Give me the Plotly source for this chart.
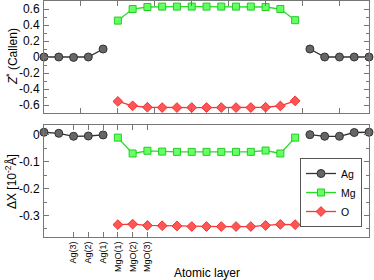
import plotly.graph_objects as go

layers = list(range(23))
N = None
ag_z = [0.0, 0.0, -0.005, 0.0, 0.10] + [N] * 13 + [0.10, 0.0, 0.0, 0.0, 0.0]
mg_z = [N] * 5 + [0.455, 0.60, 0.625, 0.63, 0.63, 0.63, 0.63, 0.63, 0.63, 0.63, 0.625, 0.60, 0.46] + [N] * 5
o_z = [N] * 5 + [-0.555, -0.61, -0.628, -0.632, -0.632, -0.632, -0.632, -0.632, -0.632, -0.632, -0.628, -0.612, -0.548] + [N] * 5

ag_dx = [0.010, 0.006, -0.005, -0.004, 0.0] + [N] * 13 + [0.001, -0.005, -0.005, 0.009, 0.010]
mg_dx = [N] * 5 + [-0.010, -0.069, -0.059, -0.062, -0.063, -0.063, -0.063, -0.063, -0.063, -0.063, -0.058, -0.069, -0.010] + [N] * 5
o_dx = [N] * 5 + [-0.334, -0.332, -0.337, -0.338, -0.339, -0.341, -0.341, -0.341, -0.341, -0.341, -0.337, -0.333, -0.334] + [N] * 5

tick_pos = [2, 3, 4, 5, 6, 7]
tick_labels = ["Ag(3)", "Ag(2)", "Ag(1)", "MgO(1)", "MgO(2)", "MgO(3)"]

z_ticks = [0.6, 0.4, 0.2, 0, -0.2, -0.4, -0.6]
z_ticktext = ["0.6", "0.4", "0.2", "0", "-0.2", "-0.4", "-0.6"]
dx_ticks = [0, -0.1, -0.2, -0.3]
dx_ticktext = ["0", "-0.1", "-0.2", "-0.3"]

styles = {
    "Ag": dict(symbol="circle", size=8, color="#666666", line=dict(color="#333333", width=1), lc="#333333"),
    "Mg": dict(symbol="square", size=7, color="#66ff66", line=dict(color="#22cc22", width=1), lc="#22dd22"),
    "O": dict(symbol="diamond", size=7.5, color="#ff5555", line=dict(color="#ee3333", width=1), lc="#ff3333"),
}

fig = go.Figure()

def add(name, y, xa, ya, show):
    s = styles[name]
    fig.add_trace(go.Scatter(
        x=layers, y=y, name=name, mode="lines+markers", connectgaps=False,
        line=dict(color=s["lc"], width=1.3),
        marker=dict(symbol=s["symbol"], size=s["size"], color=s["color"], line=s["line"]),
        xaxis=xa, yaxis=ya, showlegend=show, cliponaxis=False,
    ))

add("Ag", ag_z, "x", "y", False)
add("Mg", mg_z, "x", "y", False)
add("O", o_z, "x", "y", False)
add("Ag", ag_dx, "x2", "y2", True)
add("Mg", mg_dx, "x2", "y2", True)
add("O", o_dx, "x2", "y2", True)

frame = dict(showline=True, linecolor="#777777", linewidth=1, mirror="ticks",
             ticks="inside", tickcolor="#777777", showgrid=False, zeroline=False)

top_d = [(237 - 113) / 236, 1.0]
bot_d = [0.0, (237 - 125) / 236]

fig.update_layout(
    width=374, height=280,
    margin=dict(l=44, r=5, t=1, b=43),
    paper_bgcolor="white", plot_bgcolor="white",
    font=dict(family="Liberation Sans, Arial, sans-serif", size=12, color="black"),
    xaxis=dict(domain=[0, 1], range=[0, 22], anchor="y", tickmode="array",
               tickvals=[2.5 * k for k in range(10)], showticklabels=False, ticklen=5, **frame),
    yaxis=dict(domain=top_d, range=[-0.7, 0.7], anchor="x", tickmode="array",
               tickvals=z_ticks, ticktext=z_ticktext, ticklen=5, ticklabelstandoff=1,
               minor=dict(dtick=0.1, ticks="inside", ticklen=3, tickcolor="#777777"), **frame),
    xaxis2=dict(domain=[0, 1], range=[0, 22], anchor="y2", tickmode="array",
                tickvals=tick_pos, ticktext=tick_labels, tickangle=-90, ticklen=5,
                tickfont=dict(size=9), **frame),
    yaxis2=dict(domain=bot_d, range=[-0.38, 0.037], anchor="x2", tickmode="array",
                tickvals=dx_ticks, ticktext=dx_ticktext, ticklen=5, ticklabelstandoff=1,
                minor=dict(dtick=0.05, ticks="inside", ticklen=3, tickcolor="#777777"), **frame),
    legend=dict(x=1 - (369 - 362) / 325, y=(237 - 158) / 236, xanchor="right", yanchor="top",
                bgcolor="white", bordercolor="#555555", borderwidth=1,
                font=dict(size=10.5), tracegroupgap=0, itemwidth=30,
                yref="paper"),
    annotations=[
        dict(text="<i>Z</i><sup>*</sup> (Callen)", xref="paper", yref="paper",
             x=(12 - 44) / 325, y=(237 - 57) / 236, textangle=-90, showarrow=False,
             xanchor="center", yanchor="middle", font=dict(size=12)),
        dict(text="ΔX [10<sup>-2</sup>Å]", xref="paper", yref="paper",
             x=(11 - 44) / 325, y=(237 - 182) / 236, textangle=-90, showarrow=False,
             xanchor="center", yanchor="middle", font=dict(size=12)),
        dict(text="Atomic layer", xref="paper", yref="paper",
             x=0.5, y=(237 - 273) / 236, showarrow=False,
             xanchor="center", yanchor="middle", font=dict(size=12)),
    ],
)

fig.write_html("out.html", config={"displayModeBar": False},
               post_script="document.body.style.margin='0';document.body.style.padding='0';")
